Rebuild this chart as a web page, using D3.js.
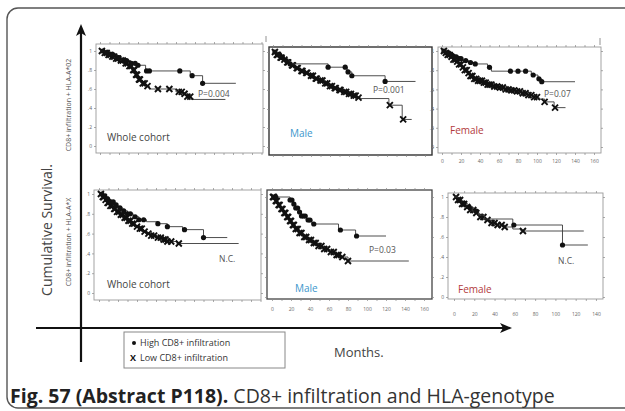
<!DOCTYPE html>
<html>
<head>
<meta charset="utf-8">
<script src="https://cdn.jsdelivr.net/npm/d3@7"></script>
<style>
  html, body { margin: 0; padding: 0; background: #fff; }
  svg { display: block; }
</style>
</head>
<body>
<svg id="chart" width="625" height="411"></svg>
<script>
// ---------------- DATA ----------------
const monthTicks = [0, 20, 40, 60, 80, 100, 120, 140, 160];
const survTicks = [0, 0.2, 0.4, 0.6, 0.8, 1];
const survTickLabels = ["0", ".2", ".4", ".6", ".8", "1"];
const rowLabels = ["CD8+ infiltration + HLA-A*02", "CD8+ infiltration + HLA-A*X"];
const panelTitles = ["Whole cohort", "Male", "Female", "Whole cohort", "Male", "Female"];
const pValues = ["P=0.004", "P=0.001", "P=0.07", "N.C.", "P=0.03", "N.C."];
const legendLabels = ["High CD8+ infiltration", "Low CD8+ infiltration"];

// Whole cohort, HLA-A*02
const wholeA02HighSteps = [[0,1],[5,0.98],[10,0.96],[15,0.93],[22,0.9],[30,0.87],[38,0.85],[48,0.79],[95,0.74],[108,0.66]];
const wholeA02HighEnd = 143;
const wholeA02HighCensored = [3,6,8,12,14,18,20,25,28,33,37,40,49,52,84,97,108];
const wholeA02LowSteps = [[0,1],[4,0.98],[8,0.96],[12,0.94],[16,0.92],[20,0.9],[25,0.87],[30,0.84],[34,0.8],[37,0.75],[40,0.7],[44,0.66],[48,0.63],[52,0.6],[80,0.57],[88,0.55],[92,0.52],[96,0.49]];
const wholeA02LowEnd = 132;
const wholeA02LowCensored = [2,5,7,9,11,13,15,17,19,22,24,27,29,31,33,35,36,38,39,41,42,45,47,50,61,73,83,86,89,92,95];

// Male, HLA-A*02
const maleA02HighSteps = [[0,1],[4,0.97],[8,0.94],[12,0.91],[17,0.875],[58,0.84],[78,0.79],[83,0.75],[118,0.69]];
const maleA02HighEnd = 150;
const maleA02HighCensored = [2,5,7,10,14,18,58,76,79,83,118];
const maleA02LowSteps = [[0,1],[3,0.97],[6,0.94],[10,0.92],[14,0.89],[18,0.86],[23,0.83],[28,0.8],[33,0.78],[38,0.75],[43,0.72],[48,0.7],[53,0.67],[58,0.64],[63,0.62],[68,0.6],[73,0.58],[78,0.56],[83,0.54],[88,0.52],[92,0.51],[122,0.44],[136,0.29]];
const maleA02LowEnd = 146;
const maleA02LowCensored = [2,4,5,8,9,12,15,16,20,21,25,26,30,31,35,36,40,42,45,46,50,52,55,57,60,62,65,66,70,71,75,77,80,82,85,87,90,123,137];

// Female, HLA-A*02
const femaleA02HighSteps = [[0,1],[4,0.98],[8,0.96],[12,0.94],[16,0.92],[22,0.9],[28,0.88],[34,0.865],[48,0.83],[52,0.79],[94,0.75],[101,0.71],[105,0.68]];
const femaleA02HighEnd = 140;
const femaleA02HighCensored = [2,5,7,10,13,15,18,20,25,30,35,50,72,80,88,96,102,105];
const femaleA02LowSteps = [[0,1],[3,0.98],[6,0.96],[9,0.94],[12,0.91],[15,0.89],[18,0.86],[21,0.83],[24,0.8],[27,0.77],[30,0.74],[34,0.71],[38,0.69],[43,0.67],[48,0.65],[54,0.63],[60,0.62],[66,0.6],[72,0.59],[78,0.58],[84,0.56],[90,0.54],[96,0.52],[102,0.5],[108,0.47],[118,0.41]];
const femaleA02LowEnd = 130;
const femaleA02LowCensored = [2,4,6,8,10,12,14,16,18,20,22,24,26,28,30,32,34,36,38,40,42,44,46,48,50,52,55,58,61,64,67,70,73,76,79,82,85,88,91,94,97,100,108,119];

// Whole cohort, HLA-A*X
const wholeAXHighSteps = [[0,1],[4,0.98],[8,0.95],[12,0.92],[16,0.89],[20,0.86],[25,0.83],[30,0.8],[36,0.77],[42,0.74],[50,0.72],[62,0.7],[72,0.67],[88,0.64],[110,0.56]];
const wholeAXHighEnd = 135;
const wholeAXHighCensored = [3,6,9,12,15,18,22,26,30,33,38,42,47,62,72,90,110];
const wholeAXLowSteps = [[0,1],[3,0.97],[6,0.94],[9,0.91],[12,0.88],[15,0.85],[18,0.82],[22,0.79],[26,0.76],[30,0.73],[34,0.7],[38,0.67],[42,0.65],[46,0.62],[50,0.6],[55,0.58],[60,0.56],[66,0.54],[72,0.52],[82,0.5]];
const wholeAXLowEnd = 147;
const wholeAXLowCensored = [2,4,5,7,9,10,12,14,16,17,19,21,23,25,27,29,31,33,35,37,40,43,45,48,52,55,58,62,65,68,70,72,76,84];

// Male, HLA-A*X
const maleAXHighSteps = [[0,1],[19,0.97],[22,0.93],[25,0.89],[28,0.85],[31,0.81],[36,0.77],[42,0.73],[70,0.67],[88,0.61]];
const maleAXHighEnd = 120;
const maleAXHighCensored = [2,4,19,21,23,25,27,29,31,33,35,38,40,44,72,89];
const maleAXLowSteps = [[0,1],[3,0.96],[6,0.92],[9,0.88],[12,0.84],[15,0.8],[18,0.76],[21,0.72],[24,0.68],[28,0.64],[33,0.6],[38,0.57],[43,0.54],[48,0.51],[54,0.48],[60,0.45],[66,0.42],[72,0.4],[80,0.36]];
const maleAXLowEnd = 144;
const maleAXLowCensored = [1,2,4,5,7,8,10,11,13,14,16,17,19,20,22,23,25,27,29,31,34,36,39,41,44,46,49,52,55,58,62,65,68,70,74,80];

// Female, HLA-A*X
const femaleAXHighSteps = [[0,1],[4,0.97],[8,0.94],[13,0.9],[18,0.86],[24,0.82],[30,0.78],[58,0.72],[107,0.52]];
const femaleAXHighEnd = 132;
const femaleAXHighCensored = [5,10,15,22,59,107];
const femaleAXLowSteps = [[0,1],[3,0.97],[7,0.93],[11,0.9],[15,0.87],[20,0.84],[25,0.8],[30,0.77],[36,0.74],[42,0.72],[50,0.7],[58,0.68],[66,0.66]];
const femaleAXLowEnd = 128;
const femaleAXLowCensored = [2,4,6,8,10,13,16,19,22,26,29,33,37,40,43,47,50,68];

// ---------------- LAYOUT ----------------
const svg = d3.select("#chart");
const FONT = "'Open Sans', 'DejaVu Sans', sans-serif";

const panels = [
  {box:[96,263,44,153],  x0:100, k:0.95,  y1:51,  y0:146, labX:false, labY:true,  color:"#444", border:"#9a9a9a", bw:0.9,
   title:[107,141], p:[198,97],
   high:[wholeA02HighSteps, wholeA02HighEnd, wholeA02HighCensored], low:[wholeA02LowSteps, wholeA02LowEnd, wholeA02LowCensored]},
  {box:[269,432,47,155], x0:273, k:0.95,  y1:52,  y0:147, labX:false, labY:false, color:"#3d96cc", border:"#333", bw:1.4,
   title:[290,137], p:[373,93],
   high:[maleA02HighSteps, maleA02HighEnd, maleA02HighCensored], low:[maleA02LowSteps, maleA02LowEnd, maleA02LowCensored]},
  {box:[438,601,47,153], x0:442, k:0.95,  y1:51,  y0:147, labX:true,  labY:true,  color:"#b23a3a", border:"#9a9a9a", bw:0.9, labXY:162,
   title:[450,134], p:[544,97],
   high:[femaleA02HighSteps, femaleA02HighEnd, femaleA02HighCensored], low:[femaleA02LowSteps, femaleA02LowEnd, femaleA02LowCensored]},
  {box:[94,261,190,300], x0:99, k:0.95,  y1:194, y0:293, labX:false, labY:true,  color:"#444", border:"#9a9a9a", bw:0.9,
   title:[107,288], p:[219,262],
   high:[wholeAXHighSteps, wholeAXHighEnd, wholeAXHighCensored], low:[wholeAXLowSteps, wholeAXLowEnd, wholeAXLowCensored]},
  {box:[267,432,190,299], x0:272, k:0.95, y1:197, y0:297, labX:true,  labY:false, color:"#3d96cc", border:"#444", bw:1.3, labXY:310,
   title:[295,292], p:[369,253],
   high:[maleAXHighSteps, maleAXHighEnd, maleAXHighCensored], low:[maleAXLowSteps, maleAXLowEnd, maleAXLowCensored]},
  {box:[448,603,193,299], x0:454, k:1.014, y1:197, y0:297, labX:true,  labY:true,  color:"#b23a3a", border:"#9a9a9a", bw:0.9, labXY:315, maxLab:140,
   title:[458,293], p:[558,264],
   high:[femaleAXHighSteps, femaleAXHighEnd, femaleAXHighCensored], low:[femaleAXLowSteps, femaleAXLowEnd, femaleAXLowCensored]}
];

// outer rounded frame
svg.append("rect").attr("x", 7).attr("y", 8).attr("width", 640).attr("height", 400)
  .attr("rx", 11).attr("fill", "none").attr("stroke", "#555").attr("stroke-width", 1.4);

function survAt(steps, t) {
  let s = steps[0][1];
  for (const [tt, v] of steps) { if (tt <= t) s = v; else break; }
  return s;
}

panels.forEach((p, i) => {
  const [L, R, T, B] = p.box;
  const maxM = (R - p.x0) / p.k;
  const x = d3.scaleLinear().domain([0, maxM]).range([p.x0, R]);
  const y = d3.scaleLinear().domain([0, 1]).range([p.y0, p.y1]);
  const g = svg.append("g");

  g.append("rect").attr("x", L).attr("y", T).attr("width", R - L).attr("height", B - T)
    .attr("fill", "none").attr("stroke", p.border).attr("stroke-width", p.bw);

  const minor = d3.range(0, maxM + 0.01, 10);
  const styleAxis = sel => {
    sel.select(".domain").remove();
    sel.selectAll(".tick line").attr("stroke", "#888").attr("stroke-width", 0.7);
    sel.selectAll("text").attr("font-family", FONT).attr("font-size", 5).attr("fill", "#666");
  };
  const maxLab = p.maxLab || 160;
  g.append("g").attr("transform", `translate(0,${B})`)
    .call(d3.axisBottom(x).tickValues(minor).tickSize(2)
      .tickPadding(p.labX ? (p.labXY - B - 5) : 0)
      .tickFormat(d => (p.labX && monthTicks.includes(d) && d <= maxLab) ? d : ""))
    .call(styleAxis);
  g.append("g").attr("transform", `translate(0,${T})`)
    .call(d3.axisTop(x).tickValues(minor).tickSize(2).tickFormat(""))
    .call(styleAxis);
  g.append("g").attr("transform", `translate(${L},0)`)
    .call(d3.axisLeft(y).tickValues(survTicks).tickSize(2).tickPadding(2)
      .tickFormat((d, j) => p.labY ? survTickLabels[j] : ""))
    .call(styleAxis);
  g.append("g").attr("transform", `translate(${R},0)`)
    .call(d3.axisRight(y).tickValues(survTicks).tickSize(2).tickFormat(""))
    .call(styleAxis);

  const line = d3.line().curve(d3.curveStepAfter).x(d => x(d[0])).y(d => y(d[1]));

  const drawCurve = (curve, marker) => {
    const [steps, end, cens] = curve;
    const pts = steps.concat([[end, steps[steps.length - 1][1]]]);
    g.append("path").attr("d", line(pts)).attr("fill", "none")
      .attr("stroke", "#3a3a3a").attr("stroke-width", 0.9);
    cens.forEach(t => {
      const cx = x(t), cy = y(survAt(steps, t));
      if (marker === "dot") {
        g.append("circle").attr("cx", cx).attr("cy", cy).attr("r", 2.6).attr("fill", "#111");
      } else {
        const s = 3;
        g.append("path")
          .attr("d", `M${cx - s},${cy - s}L${cx + s},${cy + s}M${cx + s},${cy - s}L${cx - s},${cy + s}`)
          .attr("stroke", "#111").attr("stroke-width", 1.9).attr("fill", "none");
      }
    });
  };
  drawCurve(p.low, "x");
  drawCurve(p.high, "dot");

  g.append("text").attr("x", p.title[0]).attr("y", p.title[1]).text(panelTitles[i])
    .attr("font-family", FONT).attr("font-size", 10).attr("fill", p.color);
  g.append("text").attr("x", p.p[0]).attr("y", p.p[1]).text(pValues[i])
    .attr("font-family", FONT).attr("font-size", 8.5).attr("fill", "#555");
});

// row labels
[[71, 105], [71, 242]].forEach(([cx, cy], i) => {
  svg.append("text").attr("transform", `translate(${cx},${cy}) rotate(-90)`)
    .attr("text-anchor", "middle").attr("font-family", FONT).attr("font-size", 7)
    .attr("fill", "#555").text(rowLabels[i]);
});
svg.append("text").attr("transform", "translate(52,230) rotate(-90)")
  .attr("text-anchor", "middle").attr("font-family", FONT).attr("font-size", 14)
  .attr("fill", "#444").text("Cumulative Survival.");

// big axes arrows
svg.append("line").attr("x1", 81).attr("y1", 362).attr("x2", 81).attr("y2", 32)
  .attr("stroke", "#111").attr("stroke-width", 2.2);
svg.append("path").attr("d", "M81,24 L76,36 L81,33 L86,36 Z").attr("fill", "#111");
svg.append("line").attr("x1", 36).attr("y1", 328).attr("x2", 505).attr("y2", 328)
  .attr("stroke", "#111").attr("stroke-width", 2.2);
svg.append("path").attr("d", "M512,328 L500,323 L503,328 L500,333 Z").attr("fill", "#111");

// small stray marks
svg.append("line").attr("x1", 266).attr("y1", 36).attr("x2", 266).attr("y2", 42).attr("stroke", "#777").attr("stroke-width", 0.8);
svg.append("line").attr("x1", 600).attr("y1", 38).attr("x2", 600).attr("y2", 45).attr("stroke", "#777").attr("stroke-width", 0.8);

// legend
svg.append("rect").attr("x", 124).attr("y", 332).attr("width", 161).attr("height", 36)
  .attr("fill", "#fff").attr("stroke", "#888").attr("stroke-width", 1);
svg.append("circle").attr("cx", 134).attr("cy", 343).attr("r", 2).attr("fill", "#111");
svg.append("text").attr("x", 140).attr("y", 346).text(legendLabels[0])
  .attr("font-family", FONT).attr("font-size", 9).attr("fill", "#333");
svg.append("text").attr("x", 130).attr("y", 361).text("X")
  .attr("font-family", FONT).attr("font-size", 9).attr("font-weight", "bold").attr("fill", "#111");
svg.append("text").attr("x", 140).attr("y", 361).text(legendLabels[1])
  .attr("font-family", FONT).attr("font-size", 9).attr("fill", "#333");

svg.append("text").attr("x", 334).attr("y", 357).text("Months.")
  .attr("font-family", FONT).attr("font-size", 13).attr("fill", "#444");

// caption
const cap = svg.append("text").attr("x", 10).attr("y", 403)
  .attr("font-family", FONT).attr("font-size", 19.5).attr("fill", "#222");
cap.append("tspan").attr("font-weight", "bold").text("Fig. 57 (Abstract P118).");
cap.append("tspan").attr("fill", "#333").text(" CD8+ infiltration and HLA-genotype");
</script>
</body>
</html>
